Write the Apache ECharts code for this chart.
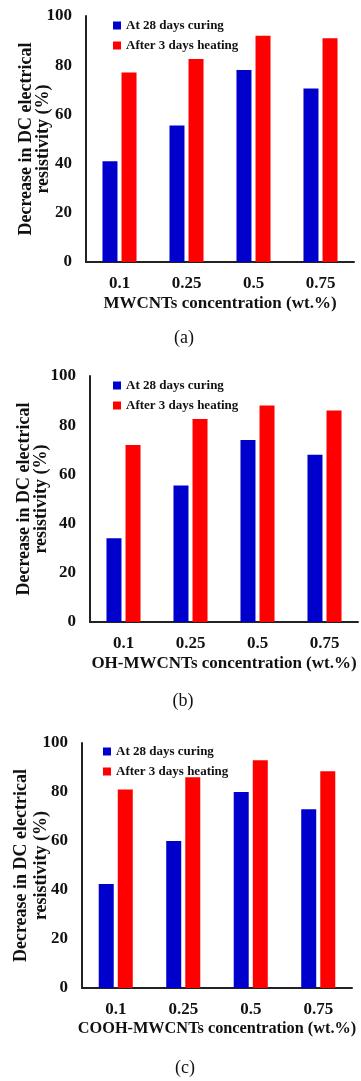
<!DOCTYPE html>
<html>
<head>
<meta charset="utf-8">
<script src="https://cdn.jsdelivr.net/npm/echarts@6/dist/echarts.min.js"></script>
<style>
  html, body { margin: 0; padding: 0; background: #fff; }
  #main { width: 361px; height: 1081px; }
</style>
</head>
<body>
<div id="main"></div>
<script>
// data
var categories = ['0.1', '0.25', '0.5', '0.75'];
var seriesNames = ['At 28 days curing', 'After 3 days heating'];

var mwcntCuring = [41, 55.5, 78, 70.5];
var mwcntHeating = [77, 82.5, 92, 91];
var ohCuring = [34, 55.5, 74, 68];
var ohHeating = [72, 82.5, 88, 86];
var coohCuring = [42.5, 60, 80, 73];
var coohHeating = [81, 86, 93, 88.5];

var xTitles = ['MWCNTs concentration (wt.%)', 'OH-MWCNTs concentration (wt.%)', 'COOH-MWCNTs concentration (wt.%)'];
var panelLabels = ['(a)', '(b)', '(c)'];
var yTitle = 'Decrease in DC electrical\nresistivity (%)';

var font = 'Liberation Serif';
var blue = '#0000cc';
var red = '#ff0000';

// one panel layout each
var grids = [
  { left: 86, top: 16, width: 268, height: 246, outerBoundsMode: 'none' },
  { left: 90, top: 376, width: 268, height: 246, outerBoundsMode: 'none' },
  { left: 82, top: 743, width: 270, height: 245, outerBoundsMode: 'none' }
];
var yNameGaps = [34, 40, 31];
var yNameLines = [17, 17, 20];
var xNameSizes = [17, 17, 16.3];
var legendPos = [{ left: 113, top: 16 }, { left: 113, top: 376 }, { left: 103, top: 742 }];
var labelPos = [{ left: 184, top: 329 }, { left: 183, top: 692 }, { left: 185, top: 1059 }];
var data = [[mwcntCuring, mwcntHeating], [ohCuring, ohHeating], [coohCuring, coohHeating]];

var myChart = echarts.init(document.getElementById('main'));

var xAxes = [], yAxes = [], series = [], legends = [], titles = [];
for (var i = 0; i < 3; i++) {
  xAxes.push({
    type: 'category',
    gridIndex: i,
    data: categories,
    axisLine: { lineStyle: { color: '#222', width: 2 } },
    axisTick: { show: false },
    axisLabel: { color: '#111', fontFamily: font, fontWeight: 'bold', fontSize: 17, margin: 13 },
    name: xTitles[i],
    nameLocation: 'middle',
    nameGap: 33,
    nameMoveOverlap: false,
    nameTextStyle: { color: '#111', fontFamily: font, fontWeight: 'bold', fontSize: xNameSizes[i] }
  });
  yAxes.push({
    type: 'value',
    gridIndex: i,
    min: 0,
    max: 100,
    interval: 20,
    splitLine: { show: false },
    axisLine: { show: true, lineStyle: { color: '#222', width: 2 } },
    axisTick: { show: false },
    axisLabel: { color: '#111', fontFamily: font, fontWeight: 'bold', fontSize: 17, margin: 14 },
    name: yTitle,
    nameLocation: 'middle',
    nameRotate: 90,
    nameGap: yNameGaps[i],
    nameMoveOverlap: false,
    nameTextStyle: { color: '#111', fontFamily: font, fontWeight: 'bold', fontSize: 18, lineHeight: yNameLines[i] }
  });
  series.push({
    name: seriesNames[0], type: 'bar', xAxisIndex: i, yAxisIndex: i,
    data: data[i][0], barWidth: 15, barGap: '27%',
    itemStyle: { color: blue }
  });
  series.push({
    name: seriesNames[1], type: 'bar', xAxisIndex: i, yAxisIndex: i,
    data: data[i][1], barWidth: 15, barGap: '27%',
    itemStyle: { color: red }
  });
  legends.push({
    data: seriesNames,
    orient: 'vertical',
    left: legendPos[i].left,
    top: legendPos[i].top + 3,
    padding: 0,
    icon: 'rect',
    itemWidth: 8,
    itemHeight: 8,
    itemGap: 7,
    textStyle: { color: '#111', fontFamily: font, fontWeight: 'bold', fontSize: 13 }
  });
  titles.push({
    text: panelLabels[i],
    left: labelPos[i].left,
    top: labelPos[i].top,
    textAlign: 'center',
    padding: 0,
    textStyle: { color: '#111', fontFamily: font, fontWeight: 'normal', fontSize: 18 }
  });
}

var option = {
  backgroundColor: '#fff',
  animation: false,
  title: titles,
  legend: legends,
  grid: grids,
  xAxis: xAxes,
  yAxis: yAxes,
  series: series
};
myChart.setOption(option);
</script>
</body>
</html>
